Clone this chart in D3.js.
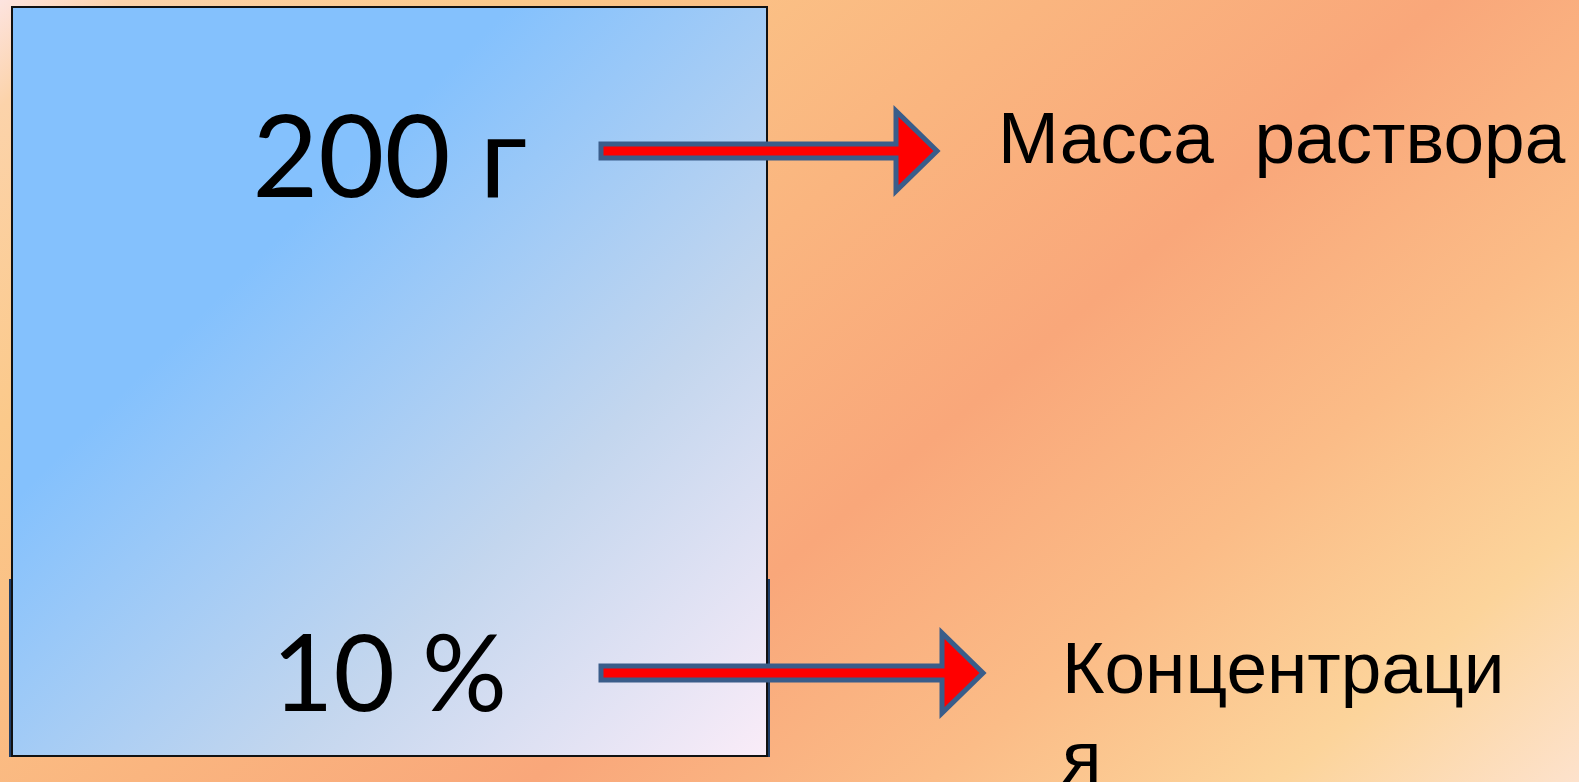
<!DOCTYPE html>
<html>
<head>
<meta charset="utf-8">
<script src="https://cdn.jsdelivr.net/npm/d3@7"></script>
<style>
  html, body { margin: 0; padding: 0; overflow: hidden; }
  svg { display: block; }
</style>
</head>
<body>
<script>
/* --------------------------------------------------------------
   Данные слайда: масса раствора и концентрация
-------------------------------------------------------------- */

const ROWS = ["mass", "conc"];
const VALUES = ["200 г", "10 %"];
const VALUE_SIZES = [114, 106];
const LABEL_LINES = [["Масса  раствора"], ["Концентраци", "я"]];
const ARROW_ENDS = [937, 983];     // кончик стрелки по оси x
const LABEL_X = [998, 1062];

const W = 1579, H = 782;

const svg = d3.select("body").append("svg")
    .attr("width", W)
    .attr("height", H);

const defs = svg.append("defs");

/* фон — диагональный градиент */
const bg = defs.append("linearGradient")
    .attr("id", "bgGrad")
    .attr("gradientUnits", "userSpaceOnUse")
    .attr("x1", 0).attr("y1", 0)
    .attr("x2", 1053).attr("y2", 1231);
[
    [0, "#fde4e0"], [0.05, "#fcd3aa"], [0.2, "#fbc98a"], [0.42, "#fab57f"],
    [0.58, "#f9a77a"], [0.74, "#fbbc87"], [0.88, "#fcd49b"], [1, "#fde2cc"]
].forEach(([o, c]) => bg.append("stop").attr("offset", o).attr("stop-color", c));

const boxGrad = defs.append("linearGradient")
    .attr("id", "boxGrad")
    .attr("x1", 0).attr("y1", 0).attr("x2", 1).attr("y2", 1);
[
    [0, "#84c1fd"], [0.33, "#84c1fd"], [0.68, "#c3d6ee"], [1, "#faecf8"]
].forEach(([o, c]) => boxGrad.append("stop").attr("offset", o).attr("stop-color", c));

svg.append("rect")
    .attr("width", W).attr("height", H)
    .attr("fill", "url(#bgGrad)");

/* --------------------------------------------------------------
   Прямоугольник (сосуд с раствором)
-------------------------------------------------------------- */

const box = { x0: 12, y0: 7, x1: 767, y1: 756 };

// нижняя подложка — видны только края
svg.append("rect")
    .attr("x", box.x0 - 2).attr("y", 580)
    .attr("width", box.x1 - box.x0 + 4).attr("height", box.y1 - 580)
    .attr("fill", "none")
    .attr("stroke", "#1f3d66")
    .attr("stroke-width", 2);

svg.append("rect")
    .attr("x", box.x0).attr("y", box.y0)
    .attr("width", box.x1 - box.x0).attr("height", box.y1 - box.y0)
    .attr("fill", "url(#boxGrad)")
    .attr("stroke", "#111")
    .attr("stroke-width", 2);

/* --------------------------------------------------------------
   Строки: значение, стрелка, подпись
-------------------------------------------------------------- */

const y = d3.scalePoint().domain(ROWS).range([151, 673]);
const cx = (box.x0 + box.x1) / 2;

function arrowPath(yc, xEnd) {
    const x0 = 601, shaft = 7, headHalf = 40, headLen = 41;
    const xb = xEnd - headLen;
    return d3.line()([
        [x0, yc - shaft], [xb, yc - shaft], [xb, yc - headHalf],
        [xEnd, yc], [xb, yc + headHalf], [xb, yc + shaft], [x0, yc + shaft]
    ]) + "Z";
}

const row = svg.selectAll("g.row")
    .data(ROWS)
    .enter()
    .append("g")
    .attr("class", "row");

row.append("text")
    .attr("x", cx)
    .attr("y", (d, i) => y(d) + [46, 38][i])
    .attr("text-anchor", "middle")
    .attr("font-family", "Lato, 'Open Sans', sans-serif")
    .attr("font-size", (d, i) => VALUE_SIZES[i])
    .attr("fill", "#000")
    .text((d, i) => VALUES[i]);

row.append("path")
    .attr("d", (d, i) => arrowPath(y(d), ARROW_ENDS[i]))
    .attr("fill", "#ff0000")
    .attr("stroke", "#3a5d8a")
    .attr("stroke-width", 5)
    .attr("stroke-linejoin", "miter");

row.append("text")
    .attr("x", (d, i) => LABEL_X[i])
    .attr("y", (d, i) => y(d) + [12, 20][i])
    .attr("font-family", "'Liberation Sans', Arial, sans-serif")
    .attr("font-size", 73)
    .attr("fill", "#000")
    .attr("xml:space", "preserve")
    .style("white-space", "pre")
    .selectAll("tspan")
    .data((d, i) => LABEL_LINES[i])
    .enter()
    .append("tspan")
    .attr("x", function () { return d3.select(this.parentNode).attr("x"); })
    .attr("dy", (l, j) => j === 0 ? 0 : 89)
    .text(l => l);
</script>
</body>
</html>
